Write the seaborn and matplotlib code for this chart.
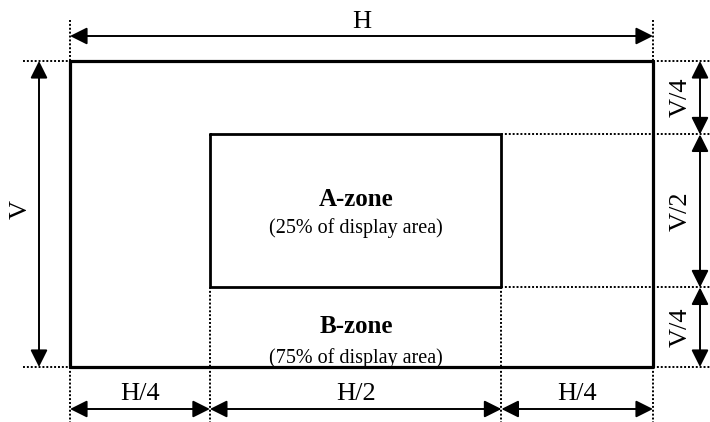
import numpy as np
import pandas as pd
import matplotlib
matplotlib.use("Agg")
import matplotlib.pyplot as plt
import seaborn as sns

# --- Diagram data (fractions of the display) ---
H_PARTS = [0.24, 0.50, 0.26]
V_PARTS = [0.24, 0.50, 0.26]
H_LABELS = ["H/4", "H/2", "H/4"]
V_LABELS = ["V/4", "V/2", "V/4"]
ZONE_NAMES = ["A-zone", "B-zone"]
ZONE_NOTES = ["(25% of display area)", "(75% of display area)"]

# pixel frame of the outer rectangle in the 710x422 picture
X0, W = 70, 583
Y0, HGT = 61, 306


def px(x):
    return (x - X0) / W


def py(y):
    return (y - Y0) / HGT


sns.set_style("white")
plt.rcParams["font.family"] = ["Liberation Serif", "DejaVu Serif"]
plt.rcParams["text.color"] = "black"

fig = plt.figure(figsize=(7.1, 4.22), dpi=100)
ax = fig.add_axes([0, 0, 1, 1])
ax.set_xlim(px(0), px(710))
ax.set_ylim(py(422), py(0))
ax.axis("off")

xs = np.concatenate([[0], np.cumsum(H_PARTS)])
ys = np.concatenate([[0], np.cumsum(V_PARTS)])


# rectangles as outline points, drawn with seaborn
def outline(name, x1, x2, y1, y2):
    return pd.DataFrame({"shape": name,
                         "x": [x1, x2, x2, x1, x1],
                         "y": [y1, y1, y2, y2, y1]})


rects = pd.concat([outline("outer", xs[0], xs[3], ys[0], ys[3]),
                   outline("inner", xs[1], xs[2], ys[1], ys[2])])
sns.lineplot(data=rects[rects["shape"] == "outer"], x="x", y="y",
             sort=False, estimator=None, color="black", lw=2.3, ax=ax)
sns.lineplot(data=rects[rects["shape"] == "inner"], x="x", y="y",
             sort=False, estimator=None, color="black", lw=2.0, ax=ax)

dot = dict(color="black", lw=1.4, ls=(0, (1, 1)))

# dotted extension lines
ax.plot([xs[0], xs[0]], [py(20), 0], **dot)
ax.plot([xs[3], xs[3]], [py(20), 0], **dot)
ax.plot([px(23), 0], [ys[0], ys[0]], **dot)
ax.plot([px(23), 0], [ys[3], ys[3]], **dot)
for x in xs:
    ax.plot([x, x], [ys[3], py(425)], **dot)
for x in xs[1:3]:
    ax.plot([x, x], [ys[2], ys[3]], **dot)
for y in ys[1:3]:
    ax.plot([xs[2], xs[3]], [y, y], **dot)
for y in ys:
    ax.plot([xs[3], px(712)], [y, y], **dot)

arrow = dict(arrowstyle="<|-|>", color="black", lw=1.4,
             mutation_scale=26, shrinkA=0, shrinkB=0)
lab = dict(fontsize=19, rotation_mode="anchor")

# overall H and V
ax.annotate("", xy=(xs[0], py(36)), xytext=(xs[3], py(36)), arrowprops=arrow)
ax.text(px(362), py(28), "H", ha="center", va="baseline", **lab)
ax.annotate("", xy=(px(39), ys[0]), xytext=(px(39), ys[3]), arrowprops=arrow)
ax.text(px(27), py(210), "V", ha="center", va="baseline", rotation=90, **lab)

# bottom partial widths
for i, t in enumerate(H_LABELS):
    ax.annotate("", xy=(xs[i], py(409)), xytext=(xs[i + 1], py(409)),
                arrowprops=arrow)
    ax.text((xs[i] + xs[i + 1]) / 2, py(400), t, ha="center", va="baseline",
            **lab)

# right partial heights
for i, t in enumerate(V_LABELS):
    ax.annotate("", xy=(px(700), ys[i]), xytext=(px(700), ys[i + 1]),
                arrowprops=arrow)
    ax.text(px(687), (ys[i] + ys[i + 1]) / 2, t, ha="center", va="baseline",
            rotation=90, **lab)

# zone captions
cx = px(356)
ax.text(cx, py(206), ZONE_NAMES[0], ha="center", va="baseline",
        fontsize=18, fontweight="bold")
ax.text(cx, py(233), ZONE_NOTES[0], ha="center", va="baseline", fontsize=14.5)
ax.text(cx, py(333), ZONE_NAMES[1], ha="center", va="baseline",
        fontsize=18, fontweight="bold")
ax.text(cx, py(363), ZONE_NOTES[1], ha="center", va="baseline", fontsize=14.5)

fig.savefig("out.png", dpi=100)
